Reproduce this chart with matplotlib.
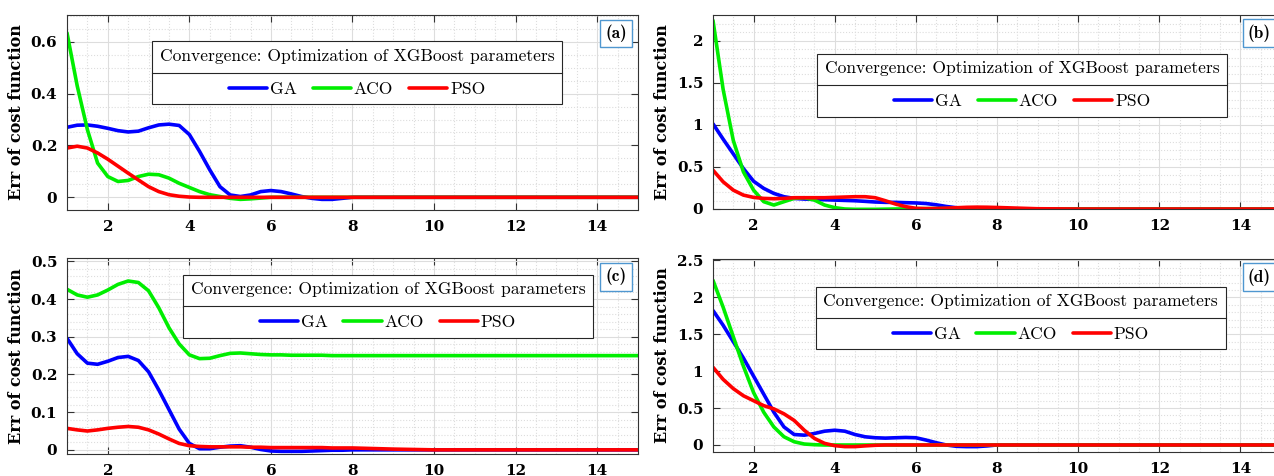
import matplotlib
matplotlib.use("Agg")
import matplotlib.pyplot as plt
from matplotlib.ticker import MultipleLocator, AutoMinorLocator, FuncFormatter
from matplotlib.lines import Line2D
from matplotlib.font_manager import FontProperties

iters = [1, 1.25, 1.5, 1.75, 2, 2.25, 2.5, 2.75, 3, 3.25, 3.5, 3.75, 4, 4.25, 4.5, 4.75,
         5, 5.25, 5.5, 5.75, 6, 6.25, 6.5, 6.75, 7, 7.25, 7.5, 7.75, 8,
         9, 10, 11, 12, 13, 14, 15]

# (a)
ga_a = [0.270, 0.278, 0.279, 0.274, 0.266, 0.257, 0.252, 0.255, 0.268, 0.279, 0.282, 0.277,
        0.242, 0.177, 0.106, 0.041, 0.009, 0.003, 0.009, 0.022, 0.026, 0.022, 0.013, 0.003,
        -0.004, -0.008, -0.008, -0.004, 0.0,
        0, 0, 0, 0, 0, 0, 0]
aco_a = [0.634, 0.430, 0.261, 0.132, 0.080, 0.061, 0.065, 0.080, 0.089, 0.087, 0.074, 0.054,
         0.038, 0.022, 0.010, 0.003, -0.004, -0.008, -0.006, -0.003, 0.0, 0, 0, 0,
         0, 0, 0, 0, 0,
         0, 0, 0, 0, 0, 0, 0]
pso_a = [0.190, 0.197, 0.190, 0.171, 0.147, 0.120, 0.093, 0.067, 0.041, 0.022, 0.010, 0.004,
         0.001, 0, 0, 0, 0, 0, 0, 0, 0, 0, 0, 0,
         0, 0, 0, 0, 0,
         0, 0, 0, 0, 0, 0, 0]

# (b)
ga_b = [1.012, 0.830, 0.655, 0.480, 0.330, 0.245, 0.185, 0.146, 0.126, 0.118, 0.114, 0.110,
        0.106, 0.102, 0.098, 0.091, 0.083, 0.079, 0.079, 0.075, 0.072, 0.065, 0.050, 0.030,
        0.015, 0.007, 0.003, 0.001, 0.0,
        0, 0, 0, 0, 0, 0, 0]
aco_b = [2.240, 1.420, 0.815, 0.441, 0.224, 0.087, 0.047, 0.087, 0.126, 0.134, 0.106, 0.047,
         0.016, 0.0, -0.004, -0.004, -0.004, -0.002, 0.0, 0.002, 0.004, 0.004, 0.005, 0.005,
         0.004, 0.003, 0.002, 0.001, 0.0,
         0, 0, 0, 0, 0, 0, 0]
pso_b = [0.461, 0.323, 0.224, 0.165, 0.138, 0.126, 0.122, 0.126, 0.134, 0.134, 0.134, 0.134,
         0.138, 0.142, 0.146, 0.146, 0.134, 0.098, 0.059, 0.028, 0.008, 0.005, 0.006, 0.010,
         0.015, 0.020, 0.022, 0.021, 0.018,
         0.003, 0, 0, 0, 0, 0, 0]

# (c)
ga_c = [0.296, 0.255, 0.230, 0.227, 0.235, 0.245, 0.248, 0.237, 0.207, 0.159, 0.107, 0.055,
        0.017, 0.003, 0.003, 0.007, 0.010, 0.011, 0.007, 0.001, -0.003, -0.004, -0.004, -0.004,
        -0.003, -0.002, -0.001, -0.001, 0.0,
        0, 0, 0, 0, 0, 0, 0]
aco_c = [0.426, 0.411, 0.405, 0.411, 0.424, 0.439, 0.448, 0.444, 0.422, 0.377, 0.324, 0.281,
         0.252, 0.242, 0.243, 0.250, 0.256, 0.257, 0.255, 0.253, 0.252, 0.252, 0.251, 0.251,
         0.251, 0.251, 0.250, 0.250, 0.250,
         0.250, 0.250, 0.250, 0.250, 0.250, 0.250, 0.250]
pso_c = [0.057, 0.053, 0.050, 0.053, 0.057, 0.060, 0.062, 0.060, 0.053, 0.042, 0.029, 0.017,
         0.011, 0.009, 0.008, 0.008, 0.008, 0.008, 0.007, 0.007, 0.006, 0.006, 0.006, 0.006,
         0.006, 0.006, 0.005, 0.005, 0.005,
         0.002, 0, 0, 0, 0, 0, 0]

# (d)
ga_d = [1.822, 1.622, 1.400, 1.178, 0.933, 0.689, 0.444, 0.244, 0.142, 0.133, 0.156, 0.187,
        0.200, 0.187, 0.142, 0.111, 0.098, 0.093, 0.098, 0.102, 0.098, 0.067, 0.031, 0.0,
        -0.018, -0.022, -0.022, -0.013, 0.0,
        0, 0, 0, 0, 0, 0, 0]
aco_d = [2.231, 1.867, 1.467, 1.067, 0.711, 0.444, 0.244, 0.111, 0.044, 0.013, 0.004, 0.0,
         0, 0, 0, 0, 0, 0, 0, 0, 0, 0, 0, 0,
         0, 0, 0, 0, 0,
         0, 0, 0, 0, 0, 0, 0]
pso_d = [1.053, 0.889, 0.764, 0.667, 0.600, 0.533, 0.489, 0.422, 0.333, 0.200, 0.089, 0.022,
         -0.009, -0.022, -0.022, -0.012, -0.004, 0.0, 0, 0, 0, 0, 0, 0,
         0, 0, 0, 0, 0,
         0, 0, 0, 0, 0, 0, 0]

legend_title = "Convergence: Optimization of XGBoost parameters"
ylabel = "Err of cost function"

W, H = 1274, 476
fig = plt.figure(figsize=(W / 100, H / 100), dpi=100)

def px_box(left, top, width, bottom):
    return [left / W, 1 - bottom / H, width / W, (bottom - top) / H]

# panel: tag, rect, data, ylim, ystep, yminor, legend center x, legend top
panels = [
    ("(a)", px_box(67, 15, 571, 210), (ga_a, aco_a, pso_a), (-0.049, 0.703), 0.2, 4, 0.508, 0.865),
    ("(b)", px_box(713, 15, 568, 209), (ga_b, aco_b, pso_b), (0, 2.305), 0.5, 5, 0.544, 0.80),
    ("(c)", px_box(67, 258, 571, 454), (ga_c, aco_c, pso_c), (-0.011, 0.509), 0.1, 5, 0.562, 0.915),
    ("(d)", px_box(713, 259, 568, 452), (ga_d, aco_d, pso_d), (-0.095, 2.52), 0.5, 5, 0.542, 0.857),
]

tick_font = dict(family="DejaVu Serif", weight="bold", size=11)
leg_font = FontProperties(family=["cmr10", "DejaVu Serif"], size=12.6)

legends = []
for tag, rect, (ga, aco, pso), ylim, ystep, nminor, lx, ly in panels:
    ax = fig.add_axes(rect)
    for vals, col, lab in [(ga, "#0000ff", "GA"), (aco, "#00ee00", "ACO"), (pso, "#ff0000", "PSO")]:
        ax.plot(iters, vals, color=col, lw=2.6, label=lab,
                solid_joinstyle="round", solid_capstyle="round")
    ax.set_xlim(1, 15)
    ax.set_ylim(*ylim)
    ax.xaxis.set_major_locator(MultipleLocator(2))
    ax.xaxis.set_minor_locator(MultipleLocator(0.5))
    ax.yaxis.set_major_locator(MultipleLocator(ystep))
    ax.yaxis.set_minor_locator(AutoMinorLocator(nminor))
    ax.yaxis.set_major_formatter(FuncFormatter(lambda v, p: "%g" % round(v, 6)))
    ax.grid(which="major", color="#dddddd", lw=0.8)
    ax.grid(which="minor", color="#dddddd", ls=":", lw=0.8)
    ax.set_axisbelow(True)
    ax.tick_params(which="major", direction="in", top=True, right=True, length=5,
                   width=0.8, color="#333333", pad=7)
    ax.tick_params(which="minor", length=0)
    for lbl in ax.get_xticklabels() + ax.get_yticklabels():
        lbl.set(**tick_font)
    for sp in ax.spines.values():
        sp.set_color("#333333")
        sp.set_linewidth(0.8)
    ax.set_ylabel(ylabel, family="DejaVu Serif", weight="bold", size=11.5, labelpad=4)

    ax.text(0.962, 0.905, tag, transform=ax.transAxes, ha="center", va="center",
            family=["cmb10", "DejaVu Serif"], size=12.5,
            bbox=dict(boxstyle="square,pad=0.3", fc="white", ec="#4f97d0", lw=1))

    leg = ax.legend(loc="upper center", bbox_to_anchor=(lx, ly), ncol=3,
                    title=legend_title, prop=leg_font, title_fontproperties=leg_font,
                    frameon=True, fancybox=False, edgecolor="#262626", framealpha=1,
                    handlelength=2.2, handletextpad=0.15, columnspacing=0.9,
                    borderpad=0.42, labelspacing=1.0, borderaxespad=0)
    leg.get_frame().set_linewidth(0.8)
    legends.append(leg)

# separator line between legend title and entries
fig.canvas.draw()
renderer = fig.canvas.get_renderer()
for leg in legends:
    fb = leg.get_frame().get_window_extent(renderer)
    tb = leg.get_title().get_window_extent(renderer)
    eb = leg._legend_handle_box.get_window_extent(renderer)
    ysep = (tb.y0 + eb.y1) / 2
    fig.add_artist(Line2D([fb.x0 / W, fb.x1 / W], [ysep / H, ysep / H],
                          transform=fig.transFigure, color="#262626", lw=0.8))

fig.savefig("out.png", dpi=100)
